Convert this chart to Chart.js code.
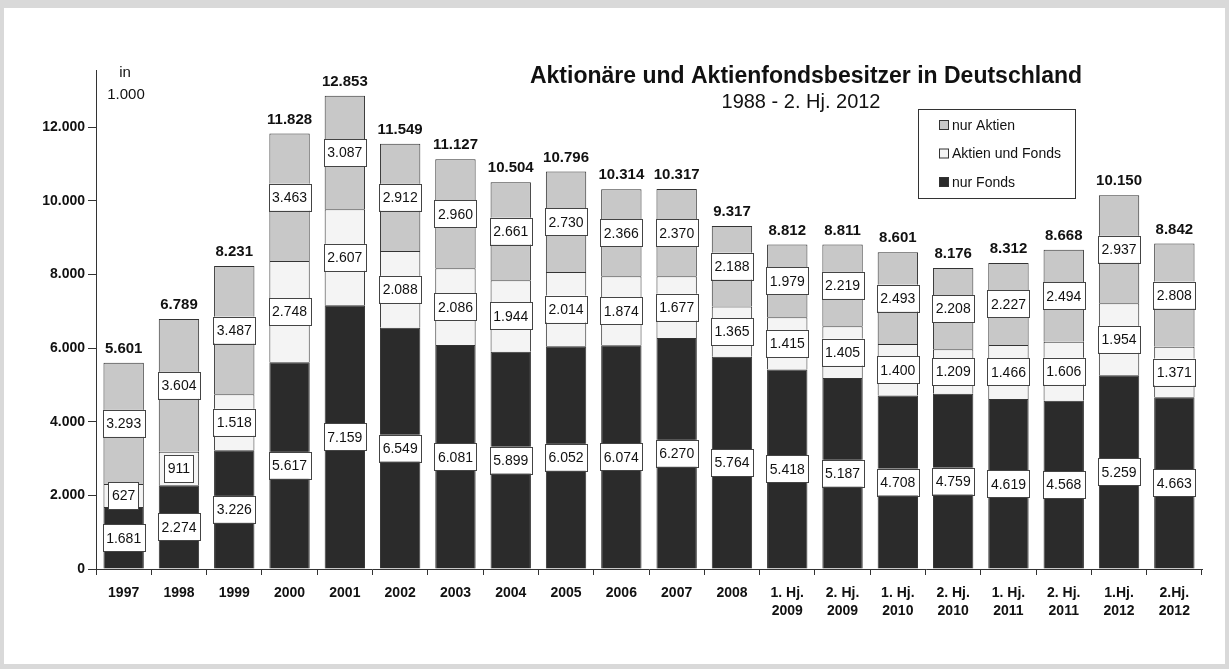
<!DOCTYPE html>
<html>
<head>
<meta charset="utf-8">
<script src="https://cdn.jsdelivr.net/npm/chart.js@4.4.1/dist/chart.umd.min.js"></script>
<style>
  html, body { margin: 0; padding: 0; background: #fff; }
  #wrap { width: 1229px; height: 669px; position: relative; }
</style>
</head>
<body>
<div id="wrap"><canvas id="myChart" width="1229" height="669"></canvas></div>
<script>
// Kategorien (Jahre / Halbjahre)
var categories = ["1997", "1998", "1999", "2000", "2001", "2002", "2003", "2004", "2005", "2006", "2007", "2008",
  ["1. Hj.", "2009"], ["2. Hj.", "2009"], ["1. Hj.", "2010"], ["2. Hj.", "2010"],
  ["1. Hj.", "2011"], ["2. Hj.", "2011"], ["1.Hj.", "2012"], ["2.Hj.", "2012"]];

// Werte in 1.000
var nurFonds = [1681, 2274, 3226, 5617, 7159, 6549, 6081, 5899, 6052, 6074, 6270, 5764, 5418, 5187, 4708, 4759, 4619, 4568, 5259, 4663];
var aktienUndFonds = [627, 911, 1518, 2748, 2607, 2088, 2086, 1944, 2014, 1874, 1677, 1365, 1415, 1405, 1400, 1209, 1466, 1606, 1954, 1371];
var nurAktien = [3293, 3604, 3487, 3463, 3087, 2912, 2960, 2661, 2730, 2366, 2370, 2188, 1979, 2219, 2493, 2208, 2227, 2494, 2937, 2808];
var totals = [5601, 6789, 8231, 11828, 12853, 11549, 11127, 10504, 10796, 10314, 10317, 9317, 8812, 8811, 8601, 8176, 8312, 8668, 10150, 8842];

var yTicks = [0, 2000, 4000, 6000, 8000, 10000, 12000];

var FONT = '"Liberation Sans", Arial, sans-serif';

function fmt(v) {
  return v.toLocaleString("de-DE");
}

// Rahmen, Titel, Legende, Beschriftungen
var decoPlugin = {
  id: "deco",
  beforeDraw: function (chart) {
    var ctx = chart.ctx;
    ctx.save();
    ctx.fillStyle = "#d9d9d9";
    ctx.fillRect(0, 0, chart.width, chart.height);
    ctx.fillStyle = "#ffffff";
    ctx.fillRect(4, 8, chart.width - 8, chart.height - 13);
    ctx.restore();
  },
  afterDatasetsDraw: function (chart) {
    var ctx = chart.ctx;
    ctx.save();
    ctx.textAlign = "center";
    ctx.textBaseline = "middle";

    // Wertekästchen in den Segmenten
    ctx.font = "14px " + FONT;
    chart.data.datasets.forEach(function (ds, i) {
      var meta = chart.getDatasetMeta(i);
      meta.data.forEach(function (bar, j) {
        var txt = fmt(ds.data[j]);
        var w = ctx.measureText(txt).width + 7;
        var h = 27;
        var y = (bar.y + bar.base) / 2;
        ctx.fillStyle = "#ffffff";
        ctx.fillRect(bar.x - w / 2, y - h / 2, w, h);
        ctx.strokeStyle = "#444";
        ctx.lineWidth = 1;
        ctx.strokeRect(Math.round(bar.x - w / 2) + 0.5, Math.round(y - h / 2) + 0.5, Math.round(w), h);
        ctx.fillStyle = "#111";
        ctx.fillText(txt, bar.x, y + 1);
      });
    });

    // Summen über den Säulen
    ctx.font = "bold 15px " + FONT;
    var top = chart.getDatasetMeta(2);
    top.data.forEach(function (bar, j) {
      ctx.fillStyle = "#111";
      ctx.fillText(fmt(totals[j]), bar.x, bar.y - 14);
    });

    // Titel
    ctx.font = "bold 23px " + FONT;
    ctx.fillText("Aktionäre und Aktienfondsbesitzer in Deutschland", 806, 77);
    ctx.font = "20px " + FONT;
    ctx.fillText("1988 - 2. Hj. 2012", 801, 102);

    // Einheit
    ctx.font = "15px " + FONT;
    ctx.fillText("in", 125, 73);
    ctx.fillText("1.000", 126, 95);

    // Legende
    ctx.fillStyle = "#fff";
    ctx.fillRect(918, 109, 157, 89);
    ctx.strokeStyle = "#333";
    ctx.strokeRect(918.5, 109.5, 157, 89);
    var items = [
      { label: "nur Aktien", color: "#c8c8c8" },
      { label: "Aktien und Fonds", color: "#f4f4f4" },
      { label: "nur Fonds", color: "#2b2b2b" }
    ];
    ctx.font = "14px " + FONT;
    ctx.textAlign = "left";
    items.forEach(function (it, k) {
      var yy = 125 + k * 28.5;
      ctx.fillStyle = it.color;
      ctx.fillRect(939.5, yy - 4.5, 9, 9);
      ctx.strokeStyle = "#333";
      ctx.strokeRect(939.5, yy - 4.5, 9, 9);
      ctx.fillStyle = "#111";
      ctx.fillText(it.label, 952, yy + 1);
    });
    ctx.restore();
  }
};

var ctx = document.getElementById("myChart").getContext("2d");

var config = {
  type: "bar",
  data: {
    labels: categories,
    datasets: [
      { label: "nur Fonds", data: nurFonds, backgroundColor: "#2b2b2b", borderColor: "#333", borderWidth: 1 },
      { label: "Aktien und Fonds", data: aktienUndFonds, backgroundColor: "#f4f4f4", borderColor: "#333", borderWidth: 1 },
      { label: "nur Aktien", data: nurAktien, backgroundColor: "#c8c8c8", borderColor: "#333", borderWidth: 1 }
    ]
  },
  options: {
    responsive: false,
    animation: false,
    layout: {
      padding: { left: 0, right: 27, top: 70, bottom: 0 }
    },
    datasets: {
      bar: { barPercentage: 0.73, categoryPercentage: 1 }
    },
    scales: {
      x: {
        stacked: true,
        afterFit: function (s) { s.height = 100; },
        grid: { display: true, drawOnChartArea: false, tickLength: 6, color: "#333" },
        border: { display: true, color: "#333", width: 1 },
        ticks: {
          color: "#111",
          padding: 9,
          maxRotation: 0,
          autoSkip: false,
          font: { family: FONT, size: 14, weight: "bold", lineHeight: 1.3 }
        }
      },
      y: {
        stacked: true,
        min: 0,
        max: 13550,
        afterFit: function (s) { s.width = 96; },
        afterBuildTicks: function (s) {
          s.ticks = yTicks.map(function (v) { return { value: v }; });
        },
        grid: { display: true, drawOnChartArea: false, tickLength: 8, color: "#333" },
        border: { display: true, color: "#333", width: 1 },
        ticks: {
          color: "#111",
          padding: 3,
          font: { family: FONT, size: 14, weight: "bold" },
          callback: function (v) { return fmt(v); }
        }
      }
    },
    plugins: {
      legend: { display: false },
      tooltip: { enabled: false }
    }
  },
  plugins: [decoPlugin]
};

var myChart = new Chart(ctx, config);
</script>
</body>
</html>
